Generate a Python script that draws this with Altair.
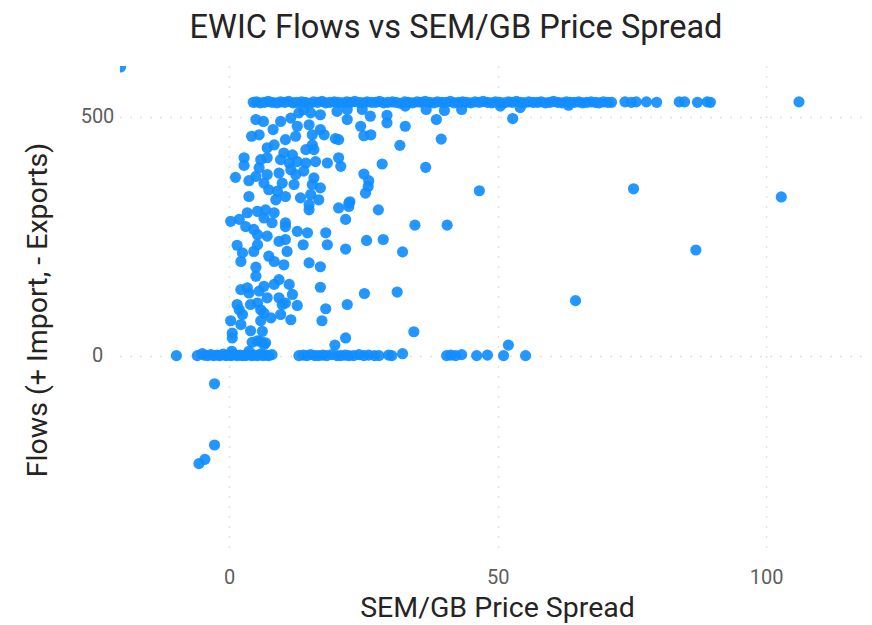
import altair as alt
import pandas as pd

TITLE = "EWIC Flows vs SEM/GB Price Spread"
X_TITLE = "SEM/GB Price Spread"
Y_TITLE = "Flows (+ Import, - Exports)"
X_TICKS = [0, 50, 100]
Y_TICKS = [0, 500]

# dense band of full-capacity imports (~530 MW)
band_spread = [4.5, 5.1, 5.8, 6.6, 7.3, 8.0, 8.9, 9.6, 10.4, 11.1,
               11.9, 12.6, 13.5, 14.2, 15.0, 15.7, 16.5, 17.3, 18.0, 18.8,
               19.6, 20.3, 21.1, 21.9, 22.6, 23.4, 24.2, 25.0, 25.7, 26.5,
               27.3, 28.0, 28.8, 29.6, 30.4, 31.1, 31.9, 32.7, 33.4, 34.2,
               35.0, 35.8, 36.5, 37.3, 38.1, 38.8, 39.6, 40.4, 41.2, 41.9,
               42.7, 43.5, 44.2, 45.0, 45.8, 46.6, 47.3, 48.1, 48.9, 49.6,
               50.4, 51.2, 52.0, 52.7, 53.5, 54.3, 55.0, 55.8, 56.6, 57.4,
               58.1, 58.9, 59.7, 60.4, 61.2, 62.0, 62.8, 63.5, 64.3, 65.1,
               65.8, 66.6, 67.4, 68.2, 68.9, 69.7, 70.5, 71.2]
band_flow = [530, 531, 529, 530, 532, 530, 529, 531, 530, 532,
             529, 530, 531, 530, 528, 531, 530, 532, 529, 530,
             531, 530, 529, 531, 530, 532, 530, 529, 531, 530,
             530, 532, 529, 530, 531, 530, 528, 531, 530, 529,
             531, 530, 532, 530, 529, 531, 530, 530, 532, 529,
             530, 531, 530, 529, 531, 530, 532, 530, 529, 531,
             530, 529, 531, 530, 532, 530, 529, 531, 530, 530,
             531, 529, 530, 532, 530, 529, 531, 530, 530, 531,
             529, 530, 531, 530, 529, 531, 530, 530]

tail_spread = [73.7, 74.9, 75.8, 77.7, 79.6, 83.8, 84.8, 87.2, 89.0, 89.6]
tail_flow = [531, 530, 531, 531, 530, 531, 531, 530, 531, 530]

cluster_spread = [
    5.0, 6.4, 4.2, 5.6, 8.2, 9.6, 11.5, 13.0, 13.9, 15.2, 17.0, 20.1, 22.0, 12.7, 14.9,
    15.5, 17.0, 17.7, 12.4, 10.5, 19.8, 7.1, 8.4, 15.5, 14.3, 15.8, 10.2, 11.8, 2.8, 2.8,
    5.9, 7.1, 9.6, 11.2, 12.7, 14.3, 16.1, 18.3, 20.4, 20.8, 1.2, 5.6, 5.0, 7.1, 9.3,
    11.5, 12.4, 13.9, 15.8, 3.7, 6.5, 9.9, 12.1, 15.5, 17.0, 3.7, 7.4, 9.0, 10.5, 13.3,
    15.2, 16.7, 8.7, 14.9, 14.9, 20.4, 22.3, 21.7, 3.4, 1.9, 5.3, 6.8, 8.4, 10.5, 0.3,
    3.1, 6.5, 8.0, 10.5, 4.6, 5.3, 7.1, 9.3, 10.5, 12.7, 14.6, 18.0, 18.3, 21.7, 1.5,
    2.5, 2.2, 4.6, 5.3, 7.4, 8.4, 10.2, 10.8, 13.8, 14.9, 17.0, 5.0, 5.0, 2.2, 3.4,
    3.7, 5.6, 6.5, 8.4, 9.3, 11.2, 11.8, 7.1, 9.3, 9.9, 10.5, 12.7, 17.0, 18.0, 22.0,
    1.5, 1.9, 4.0, 5.3, 5.9, 6.5, 7.8, 9.6, 11.5, 0.3, 2.5, 5.9, 17.3, 2.2, 4.0,
    6.2, 0.6, 0.6, 4.3, 5.3, 6.8, 21.7, 19.7,
    22.0, 24.8, 26.3, 29.4, 29.4, 32.8, 32.8, 36.7, 38.6, 40.1, 43.3, 24.5, 25.1, 26.4,
    20.4, 31.8, 39.5, 28.5, 36.6, 25.1, 26.0, 25.9, 25.4, 22.5, 22.3, 27.8, 34.6, 40.6,
    25.6, 28.7, 32.3, 25.2, 31.3, 34.4,
    50.5, 54.2, 52.8, 63.2, 46.6, 75.3, 102.8, 86.9, 106.1, 64.5,
    52.0, 0.5, 3.7, 6.5, 5.9]
cluster_flow = [
    494, 490, 459, 462, 473, 490, 497, 508, 515, 508, 504, 511, 494, 480, 483,
    462, 473, 462, 459, 452, 454, 435, 441, 441, 431, 431, 424, 420, 414, 398,
    410, 414, 410, 403, 406, 403, 406, 403, 414, 396, 373, 393, 375, 379, 382,
    389, 379, 386, 372, 366, 361, 361, 358, 358, 351, 333, 347, 344, 333, 330,
    337, 326, 326, 316, 305, 309, 319, 285, 299, 285, 302, 305, 299, 278, 281,
    270, 288, 278, 270, 264, 253, 250, 239, 243, 260, 257, 257, 232, 223, 231,
    215, 197, 218, 232, 208, 197, 190, 218, 232, 194, 186, 185, 166, 138, 142,
    131, 135, 145, 149, 159, 149, 128, 121, 121, 107, 110, 105, 143, 98, 107,
    107, 96, 107, 110, 96, 89, 79, 86, 75, 73, 86, 73, 73, 65, 52,
    51, 47, 37, 28, 31, 27, 37, 22,
    515, 515, 501, 503, 487, 522, 480, 515, 494, 513, 515, 480, 460, 462,
    452, 440, 453, 401, 394, 380, 366, 354, 340, 322, 312, 305, 273, 273,
    241, 243, 217, 130, 133, 50,
    522, 519, 496, 524, 345, 349, 332, 221, 531, 115,
    22, 9, 9, 23, 30]

zero_spread = [-9.8, -5.9, -5.0, -4.6, -4.0, -3.4, -2.9, -2.2, -1.7, -1.1,
               -0.6, 0.0, 0.4, 0.9, 1.5, 2.0, 2.5, 3.1, 3.6, 4.2,
               4.7, 5.3, 5.8, 6.3, 6.9, 7.4, 8.0, 13.0, 13.8, 14.5,
               15.2, 16.0, 16.7, 17.5, 18.2, 19.1, 20.1, 20.8, 21.6, 22.3,
               23.2, 24.2, 25.1, 26.0, 27.1, 27.9, 29.7, 30.3, 32.3, 40.5,
               41.3, 42.2, 43.3, 46.1, 48.1, 51.1, 55.2]
zero_flow = [0, 0, 4, 1, 0, 2, 0, 1, 0, 3,
             0, 1, 0, 2, 0, 1, 0, 0, 2, 0,
             1, 0, 3, 0, 1, 0, 2, 0, 1, 0,
             2, 0, 0, 1, 0, 2, 0, 0, 1, 0,
             0, 2, 0, 1, 0, 0, 1, 0, 4, 0,
             1, 0, 2, 0, 1, 0, 0]

neg_spread = [-2.7, -2.7, -4.5, -5.6, -20.2]
neg_flow = [-59, -187, -217, -226, 604]

spread = band_spread + tail_spread + cluster_spread + zero_spread + neg_spread
flow = band_flow + tail_flow + cluster_flow + zero_flow + neg_flow
df = pd.DataFrame({"spread": spread, "flow": flow})

FONT = "Roboto"
grid_kw = dict(grid=True, gridDash=[1, 9], gridWidth=1.5, gridColor="#c4c4c4",
               domain=False, ticks=False, labelFont=FONT, labelFontSize=20,
               labelColor="#605E5C", titleFont=FONT, titleFontSize=28.5,
               titleFontWeight="normal", titleColor="#252423")

chart = alt.Chart(df).mark_circle(size=125, color="#118DFF", opacity=0.92, clip=True).encode(
    x=alt.X("spread:Q",
            scale=alt.Scale(domain=[-20.3, 118.2], nice=False, zero=False),
            axis=alt.Axis(values=X_TICKS, title=X_TITLE, labelPadding=14,
                          titleX=377, titleY=54, titleAlign="center",
                          titleBaseline="middle", **grid_kw)),
    y=alt.Y("flow:Q",
            scale=alt.Scale(domain=[-413, 606], nice=False, zero=False),
            axis=alt.Axis(values=Y_TICKS, title=Y_TITLE, labelPadding=23,
                          labelAlign="center",
                          titleX=-83, titleY=243.5, titleAngle=-90,
                          titleAlign="center", titleBaseline="middle", **grid_kw)),
).properties(
    width=744, height=487,
    background="white",
    title=alt.TitleParams(TITLE, font=FONT, fontSize=32.5, fontWeight="normal",
                          color="#252423", anchor="middle", frame="group",
                          dx=-36, offset=22),
    autosize="none",
    padding={"left": 112, "top": 58, "right": 0, "bottom": 72},
).configure_view(strokeWidth=0, stroke="transparent")

chart.save("out.html", embed_options={"renderer": "svg", "actions": False})
